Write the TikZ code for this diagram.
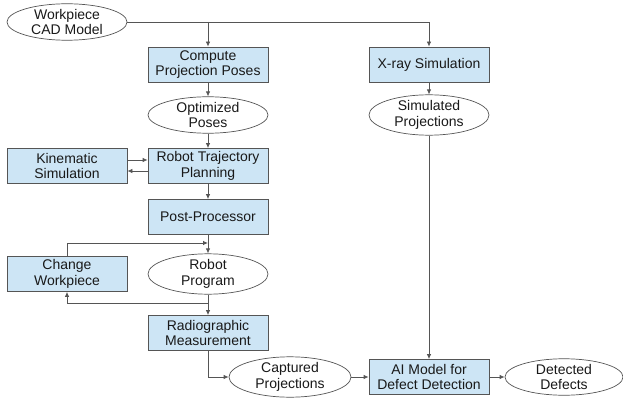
\documentclass[tikz,border=0pt]{standalone}
\usepackage{fontspec}
\setmainfont{Liberation Sans}
\usetikzlibrary{shapes.geometric,arrows.meta}
\definecolor{boxfill}{RGB}{205,229,245}
\definecolor{linec}{RGB}{85,85,85}
\begin{document}
\begin{tikzpicture}[x=1pt,y=-1pt,
  every node/.style={font=\fontsize{14}{15.5}\selectfont, align=center, text=black!90},
  pbox/.style={draw=linec, fill=boxfill, line width=0.8pt, minimum width=120pt, minimum height=35pt, inner sep=0pt},
  pell/.style={ellipse, draw=linec, fill=white, line width=0.7pt, minimum width=120pt, minimum height=36pt, inner sep=0pt},
  arr/.style={draw=linec, line width=0.8pt, -{Latex[length=5pt,width=4.5pt]}},
  ln/.style={draw=linec, line width=0.8pt}]
\useasboundingbox (0,0) rectangle (623,398);
\node[pell] (cad) at (67,22) {Workpiece\\CAD Model};
\node[pbox] (cpp) at (208,64.5) {Compute\\Projection Poses};
\node[pell] (opt) at (208,115) {Optimized\\Poses};
\node[pbox] (rtp) at (208,166) {Robot Trajectory\\Planning};
\node[pbox] (kin) at (67,166) {Kinematic\\Simulation};
\node[pbox] (pp) at (208,217) {Post-Processor};
\node[pell, minimum height=37pt] (rp) at (208,274) {Robot\\Program};
\node[pbox] (cw) at (67,274) {Change\\Workpiece};
\node[pbox] (rm) at (208,333) {Radiographic\\Measurement};
\node[pell, minimum width=122pt] (cap) at (290,377) {Captured\\Projections};
\node[pbox] (ai) at (429,377) {AI Model for\\Defect Detection};
\node[pell, minimum width=118pt] (det) at (564,377) {Detected\\Defects};
\node[pbox] (xr) at (429,64.5) {X-ray Simulation};
\node[pell] (sim) at (429,115) {Simulated\\Projections};
\coordinate (lt) at (67,243);
\coordinate (lb) at (208,303);
\draw[arr] (cad.east) -| (xr.north);
\draw[arr] (cpp.north |- cad.east) -- (cpp.north);
\draw[arr] (cpp) -- (opt);
\draw[arr] (opt) -- (rtp);
\draw[arr] (rtp) -- (pp);
\draw[arr] (pp) -- (rp);
\draw[arr] ([yshift=6pt]kin.east) -- ([yshift=6pt]rtp.west);
\draw[arr] ([yshift=-5pt]rtp.west) -- ([yshift=-5pt]kin.east);
\draw[arr] (cw.north) -- (lt) -- (lt -| pp.south);
\draw[arr] (lb) -| (cw.south);
\draw[arr] (rp) -- (rm);
\draw[arr] (rm.south) |- (cap.west);
\draw[arr] (cap) -- (ai);
\draw[arr] (ai) -- (det);
\draw[arr] (xr) -- (sim);
\draw[arr] (sim) -- (ai);
\end{tikzpicture}
\end{document}
